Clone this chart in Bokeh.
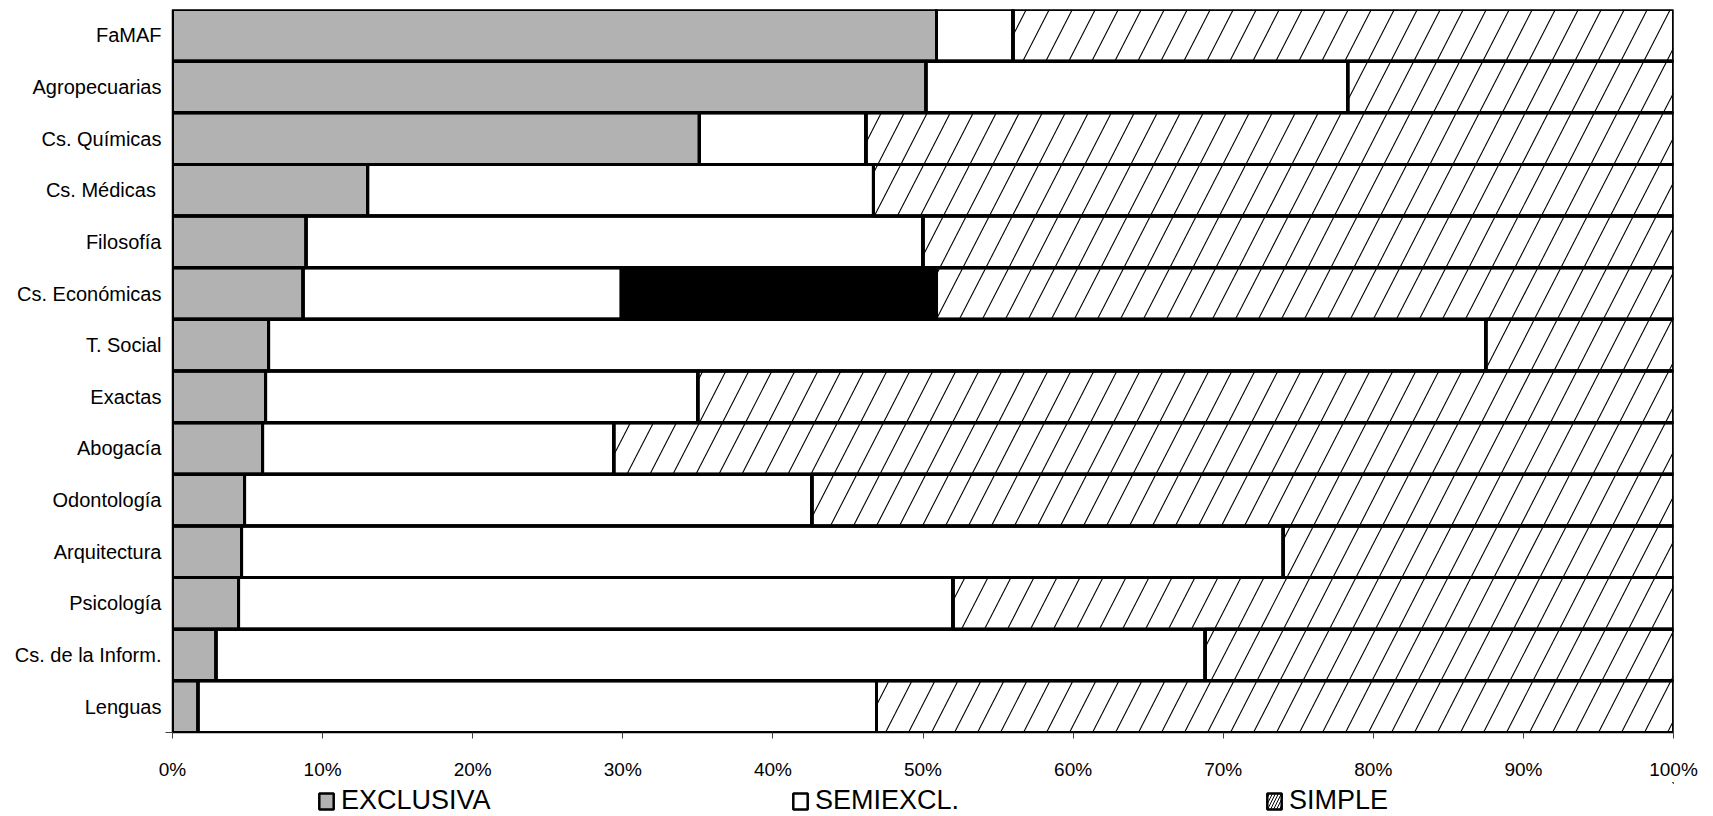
import numpy as np
from bokeh.plotting import figure
from bokeh.layouts import column
from bokeh.models import (ColumnDataSource, Range1d, FixedTicker, Legend, LegendItem)
from bokeh.embed import file_html
from bokeh.resources import INLINE

# ---------------- data (top -> bottom as in the chart) ----------------
facultades = ["FaMAF", "Agropecuarias", "Cs. Químicas", "Cs. Médicas ", "Filosofía",
              "Cs. Económicas", "T. Social", "Exactas", "Abogacía", "Odontología",
              "Arquitectura", "Psicología", "Cs. de la Inform.", "Lenguas"]
exclusiva = [50.9, 50.2, 35.1, 13.0, 8.9, 8.7, 6.4, 6.2, 6.0, 4.8, 4.6, 4.4, 2.9, 1.7]
semiexcl  = [5.1, 28.1, 11.1, 33.7, 41.1, 21.2, 81.1, 28.8, 23.4, 37.8, 69.4, 47.6, 65.9, 45.2]
otra      = [0.0, 0.0, 0.0, 0.0, 0.0, 21.0, 0.0, 0.0, 0.0, 0.0, 0.0, 0.0, 0.0, 0.0]
simple    = [44.0, 21.7, 53.8, 53.3, 50.0, 49.1, 12.5, 65.0, 70.6, 57.4, 26.0, 48.0, 31.2, 53.1]
x_ticks = [0, 10, 20, 30, 40, 50, 60, 70, 80, 90, 100]
x_tick_labels = ["0%", "10%", "20%", "30%", "40%", "50%", "60%", "70%", "80%", "90%", "100%"]
series_names = ["EXCLUSIVA", "SEMIEXCL.", "SIMPLE"]

n = len(facultades)
pos = [n - i - 0.5 for i in range(n)]  # first category on top

src = ColumnDataSource(dict(pos=pos, exclusiva=exclusiva, semiexcl=semiexcl,
                            otra=otra, simple=simple))

FONT = "Liberation Sans"
W = 1713
FRAME_LEFT = 172
p = figure(width=W, height=782, x_range=Range1d(0, 100), y_range=Range1d(0, n),
           output_backend="svg", toolbar_location=None,
           min_border_left=FRAME_LEFT, min_border_right=40, min_border_top=9,
           min_border_bottom=50)
p.xgrid.visible = False
p.ygrid.visible = False
p.outline_line_color = None
p.background_fill_color = "white"

stack = ["exclusiva", "semiexcl", "otra", "simple"]
colors = ["#b2b2b2", "#ffffff", "#000000", "#ffffff"]
p.hbar_stack(stack, y="pos", height=1.0, fill_color=colors, line_color="black",
             line_width=3, source=src)

# diagonal hatching of the SIMPLE segments (steep lines, as in the original)
PX_X = 1501.0 / 100.0      # px per x unit
ROW_PX = 723.0 / n          # px per row
spacing = 23.0 / PX_X
drift = (ROW_PX / 1.95) / PX_X
x0s, y0s, x1s, y1s = [], [], [], []
for i in range(n):
    left = exclusiva[i] + semiexcl[i] + otra[i]
    right = left + simple[i]
    yb = pos[i] - 0.5
    shift = (yb * drift) % spacing
    kmin = int(np.floor((left - drift - shift) / spacing)) - 1
    kmax = int(np.ceil((right - shift) / spacing)) + 1
    for k in range(kmin, kmax + 1):
        a = shift + k * spacing
        t_lo = max(0.0, (left - a) / drift)
        t_hi = min(1.0, (right - a) / drift)
        if t_hi - t_lo > 1e-6:
            x0s.append(a + drift * t_lo); y0s.append(yb + t_lo)
            x1s.append(a + drift * t_hi); y1s.append(yb + t_hi)
p.segment(x0=x0s, y0=y0s, x1=x1s, y1=y1s, line_color="black", line_width=1.1)

# outlines on top again
p.hbar_stack(stack, y="pos", height=1.0, fill_alpha=0, line_color="black",
             line_width=3, source=src)

# axes
xa = p.xaxis[0]
xa.ticker = FixedTicker(ticks=x_ticks)
xa.major_label_overrides = {t: l for t, l in zip(x_ticks, x_tick_labels)}
xa.axis_line_color = "black"
xa.axis_line_width = 1.5
xa.major_tick_line_color = "#404040"
xa.major_tick_out = 6
xa.major_tick_in = 0
xa.minor_tick_line_color = None
xa.major_label_standoff = 20
xa.major_label_text_font = FONT
xa.major_label_text_font_size = "19px"
xa.major_label_text_color = "black"

ya = p.yaxis[0]
ya.ticker = FixedTicker(ticks=pos, minor_ticks=[0])
ya.major_label_overrides = {v: f for v, f in zip(pos, facultades)}
ya.axis_line_color = "black"
ya.axis_line_width = 1.5
ya.major_tick_out = 0
ya.major_tick_in = 0
ya.minor_tick_out = 7
ya.minor_tick_in = 0
ya.minor_tick_line_color = "#404040"
ya.major_label_standoff = 4
ya.major_label_text_font = FONT
ya.major_label_text_font_size = "20px"
ya.major_label_text_color = "black"

# ---------------- legend strip below the chart ----------------
leg = figure(width=W, height=34, x_range=Range1d(0, 1), y_range=Range1d(0, 1),
             x_axis_type=None, y_axis_type=None, output_backend="svg",
             toolbar_location=None, min_border=0)
leg.xgrid.visible = False
leg.ygrid.visible = False
leg.outline_line_color = None
# legend swatches (one point each, placed far outside the visible range)
r_ex = leg.hbar(y=[50], left=[50], right=[51], height=1.0, fill_color="#b2b2b2",
                line_color="black", line_width=2.5)
r_se = leg.hbar(y=[50], left=[50], right=[51], height=1.0, fill_color="white",
                line_color="black", line_width=2.5)
r_si = leg.hbar(y=[50], left=[50], right=[51], height=1.0, fill_color="white",
                line_color="black", line_width=2.5, hatch_pattern="/", hatch_color="black",
                hatch_scale=6, hatch_weight=1)

# page x of each legend entry; the strip's frame is aligned with the chart frame
for name, rend, lx in zip(series_names, [r_ex, r_se, r_si], [317, 791, 1265]):
    lg = Legend(items=[LegendItem(label=name, renderers=[rend])],
                orientation="horizontal", location=(lx - FRAME_LEFT, 0),
                glyph_width=18, glyph_height=20, label_standoff=6,
                padding=0, margin=0, border_line_color=None, background_fill_alpha=0,
                label_text_font=FONT, label_text_font_size="27px",
                label_text_color="black")
    leg.add_layout(lg, "center")

open("out.html", "w").write(file_html(column(p, leg, spacing=0), INLINE))
